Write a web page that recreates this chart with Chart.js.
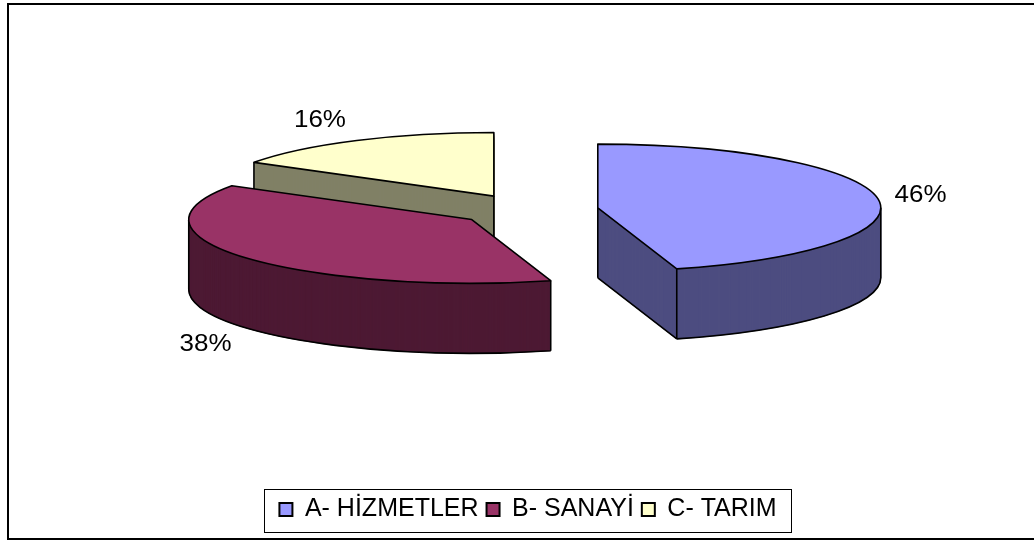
<!DOCTYPE html>
<html><head><meta charset="utf-8">
<style>html,body{margin:0;padding:0;background:#fff}canvas{display:block}</style>
<script src="https://cdn.jsdelivr.net/npm/chart.js@4"></script>
</head><body>
<canvas id="c" width="1034" height="540"></canvas>
<script>
const categories = ['A- HİZMETLER', 'B- SANAYİ', 'C- TARIM'];
const shares = [45.5, 38.4, 16.1];
const topColors = ['#9999FF', '#993366', '#FFFFCC'];
const wallColors = ['#4D4D80', '#4D1933', '#808066'];

const tilt = 0.225, depth = 70, explode = 70.5, centerY = 210, lineW = 1.6;
const labelNudge = [[-4, -2], [-3, 10], [-14, -11]];
const FONT = '"Liberation Sans", Arial, sans-serif';

function geom(chart) {
  return chart.getDatasetMeta(0).data.map((arc, i) => {
    const p = arc.getProps(['x', 'y', 'startAngle', 'endAngle', 'outerRadius'], true);
    const mid = (p.startAngle + p.endAngle) / 2;
    return { i, arc, baseX: p.x, baseY: p.y, a: p.startAngle, b: p.endAngle, r: p.outerRadius, mid,
      x: p.x + Math.cos(mid) * explode, y: centerY + Math.sin(mid) * explode * tilt };
  });
}
function pt(g, t, dy) { return [g.x + Math.cos(t) * g.r, g.y + Math.sin(t) * g.r * tilt + dy]; }
function sector(ctx, g, dy) {
  ctx.beginPath();
  ctx.moveTo(g.x, g.y + dy);
  ctx.ellipse(g.x, g.y + dy, g.r, g.r * tilt, 0, g.a, g.b);
  ctx.closePath();
}
function seg(ctx, p, q) { ctx.moveTo(p[0], p[1]); ctx.lineTo(q[0], q[1]); }

const pie3d = {
  id: 'pie3d',
  beforeDatasetDraw(chart) {
    const ctx = chart.ctx, gs = geom(chart);
    ctx.save();
    ctx.lineJoin = 'round';
    gs.slice().reverse().forEach(g => {
      ctx.fillStyle = wallColors[g.i];
      ctx.strokeStyle = wallColors[g.i];
      ctx.lineWidth = 0.8;
      for (let d = depth; d > 0; d--) { sector(ctx, g, d); ctx.fill(); ctx.stroke(); }
      ctx.strokeStyle = '#000'; ctx.lineWidth = lineW;
      ctx.beginPath();
      const lo = Math.max(g.a, 0), hi = Math.min(g.b, Math.PI);
      if (hi > lo) {
        ctx.moveTo(...pt(g, lo, depth));
        ctx.ellipse(g.x, g.y + depth, g.r, g.r * tilt, 0, lo, hi);
        seg(ctx, pt(g, lo, 0), pt(g, lo, depth));
        seg(ctx, pt(g, hi, 0), pt(g, hi, depth));
      }
      const c0 = [g.x, g.y], c1 = [g.x, g.y + depth];
      const showA = Math.cos(g.a) < 0, showB = Math.cos(g.b) > 0;
      if (showA) { seg(ctx, c1, pt(g, g.a, depth)); seg(ctx, pt(g, g.a, 0), pt(g, g.a, depth)); }
      if (showB) { seg(ctx, c1, pt(g, g.b, depth)); seg(ctx, pt(g, g.b, 0), pt(g, g.b, depth)); }
      if (showA || showB) seg(ctx, c0, c1);
      ctx.stroke();

      ctx.save();
      ctx.translate(g.x - g.baseX, g.y);
      ctx.scale(1, tilt);
      ctx.translate(0, -g.baseY);
      g.arc.draw(ctx);
      ctx.restore();

      sector(ctx, g, 0);
      ctx.stroke();
    });
    ctx.restore();
    return false;
  },
  afterDatasetsDraw(chart) {
    const ctx = chart.ctx, gs = geom(chart), total = shares.reduce((s, v) => s + v, 0);
    gs.forEach(g => {
      const lx = g.x + Math.cos(g.mid) * 330 + labelNudge[g.i][0];
      const below = Math.sin(g.mid) > 0 ? depth : 0;
      const ly = g.y + Math.sin(g.mid) * 330 * tilt + below + labelNudge[g.i][1];
      ctx.save();
      ctx.translate(lx, ly);
      ctx.scale(1.13, 1);
      ctx.font = '23px ' + FONT;
      ctx.fillStyle = '#000'; ctx.textAlign = 'center'; ctx.textBaseline = 'middle';
      ctx.fillText(Math.round(shares[g.i] / total * 100) + '%', 0, 0);
      ctx.restore();
    });
  },
  afterDraw(chart) {
    const ctx = chart.ctx, lg = chart.legend, hb = lg.legendHitBoxes;
    const l = Math.min(...hb.map(b => b.left)) - 15;
    const r = Math.max(...hb.map(b => b.left + b.width)) + 15;
    ctx.save();
    ctx.strokeStyle = '#000'; ctx.lineWidth = 1;
    ctx.strokeRect(Math.round(l) + .5, Math.round(lg.top) + .5, Math.round(r - l), Math.round(lg.height));
    ctx.lineWidth = 2;
    ctx.beginPath();
    ctx.moveTo(8, 539); ctx.lineTo(8, 4); ctx.lineTo(1034, 4);
    ctx.moveTo(7, 539); ctx.lineTo(1034, 539);
    ctx.stroke();
    ctx.restore();
  }
};

new Chart(document.getElementById('c'), {
  type: 'pie',
  data: { labels: categories, datasets: [{
    data: shares, backgroundColor: topColors, borderWidth: 0, clip: false
  }]},
  plugins: [pie3d],
  options: {
    responsive: false, animation: false, events: [],
    radius: 283,
    layout: { padding: { left: 22, bottom: 8 } },
    plugins: {
      tooltip: { enabled: false },
      legend: { position: 'bottom',
        labels: { font: { family: FONT, size: 25 }, color: '#000', boxWidth: 13, boxHeight: 13, padding: 8,
          generateLabels: c => Chart.overrides.pie.plugins.legend.labels.generateLabels(c)
            .map(it => ({ ...it, lineWidth: 2, strokeStyle: '#000' })) } }
    }
  }
});
</script>
</body></html>
